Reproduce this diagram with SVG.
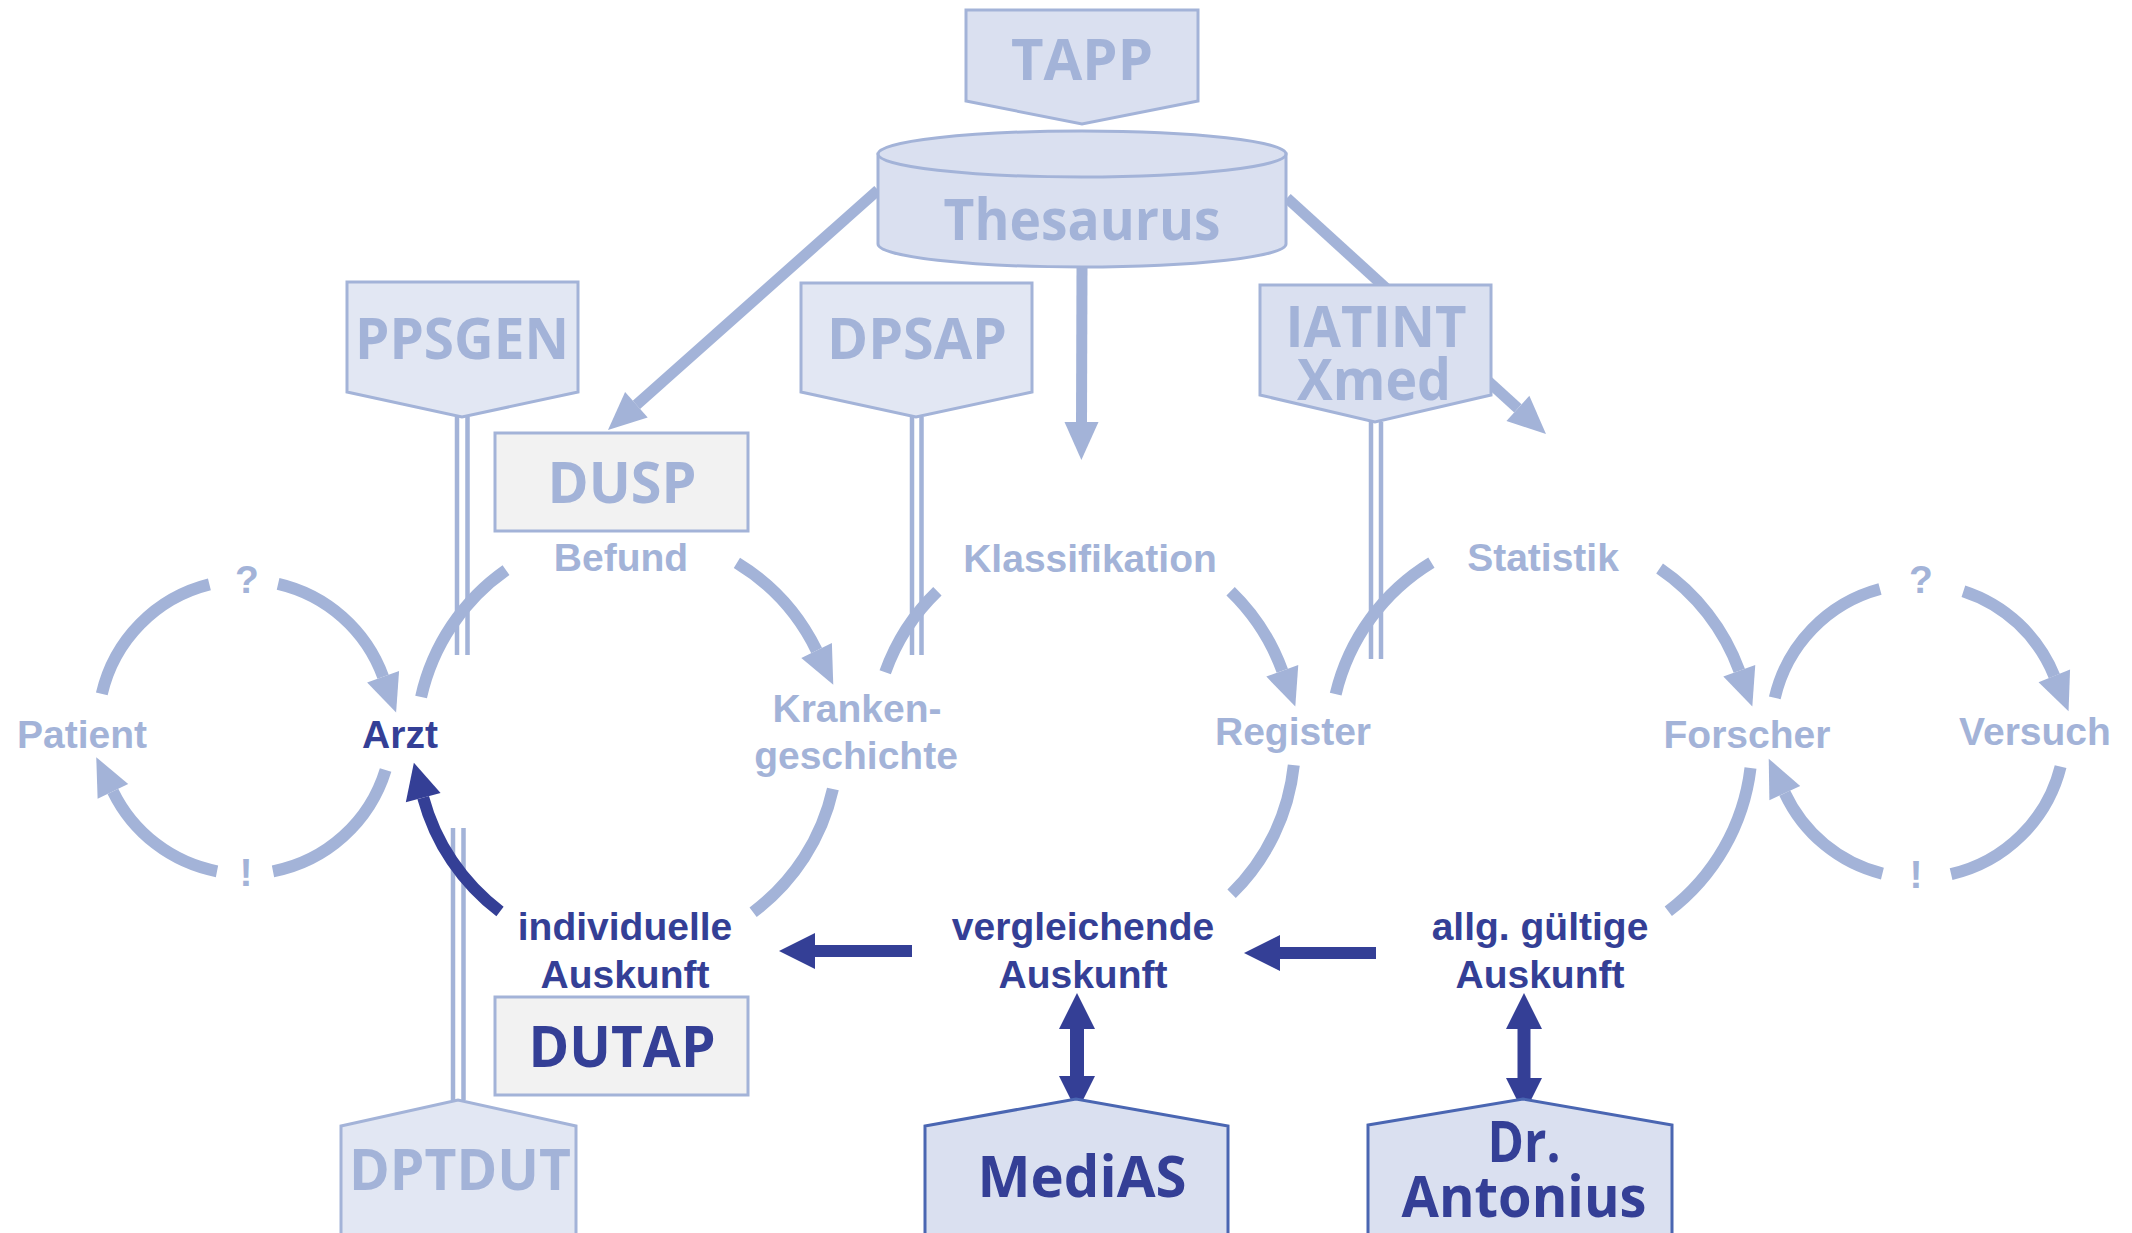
<svg xmlns="http://www.w3.org/2000/svg" width="2132" height="1233" viewBox="0 0 2132 1233">
<style>
.bg{fill:#ffffff}
.box{font-family:"Open Sans","Liberation Sans",sans-serif;font-weight:700;font-size:57px;text-anchor:middle}
.lbl{font-family:"Liberation Sans",Arial,sans-serif;font-weight:700;font-size:39px;text-anchor:middle}
.lt{fill:#a3b3d8}
.dk{fill:#343f96}
.shapeA{fill:#e2e7f3;stroke:#a3b3d8;stroke-width:3}
.shapeB{fill:#dae0f0;stroke:#a3b3d8;stroke-width:3}
.shapeC{fill:#f2f2f2;stroke:#a3b3d8;stroke-width:3}
.shapeD{fill:#dae0f0;stroke:#4a66b2;stroke-width:3}
.arc{fill:none;stroke:#a3b3d8;stroke-width:12}
.arcd{fill:none;stroke:#343f96;stroke-width:12}
.dbl{stroke:#a3b3d8;stroke-width:4.5;fill:none}
.thl{stroke:#a3b3d8;stroke-width:11;fill:none}
.dka{stroke:#343f96;fill:none}
</style>
<defs>
<marker id="aL" markerUnits="userSpaceOnUse" viewBox="0 -20 40 40" markerWidth="40" markerHeight="40" refX="0" refY="0" orient="auto" overflow="visible"><path d="M0,-17 L38,0 L0,17 z" fill="#a3b3d8"/></marker>
<marker id="aD" markerUnits="userSpaceOnUse" viewBox="0 -20 40 40" markerWidth="40" markerHeight="40" refX="0" refY="0" orient="auto-start-reverse" overflow="visible"><path d="M0,-18 L36,0 L0,18 z" fill="#343f96"/></marker>
</defs>
<rect class="bg" x="0" y="0" width="2132" height="1233"/>

<g id="connectors">
  <!-- Thesaurus arrows -->
  <path class="thl" d="M878,190 L636.4,404.8" marker-end="url(#aL)"/>
  <path class="thl" d="M1082,266 L1081.5,422" marker-end="url(#aL)"/>
  <path class="thl" d="M1287,198 L1517.9,408.4" marker-end="url(#aL)"/>
  <!-- double lines -->
  <path class="dbl" d="M457,417 V655 M467.5,417 V655"/>
  <path class="dbl" d="M912,417 V655 M921.5,417 V655"/>
  <path class="dbl" d="M1371,422 V659 M1381,422 V659"/>
  <path class="dbl" d="M453,828 V1100 M463.5,828 V1100"/>
  <!-- circle 1 Patient/Arzt -->
  <path class="arc" d="M101.8,693.9 A147,147 0 0 1 209.4,584.4"/>
  <path class="arc" d="M278.1,583.8 A147,147 0 0 1 383.1,676.7" marker-end="url(#aL)"/>
  <path class="arc" d="M385.6,770 A147,147 0 0 1 273,871.3"/>
  <path class="arc" d="M217,871.3 A147,147 0 0 1 112.9,791.4" marker-end="url(#aL)"/>
  <!-- circle 2 -->
  <path class="arc" d="M421.1,697 A211,211 0 0 1 506,570.2"/>
  <path class="arc" d="M736.9,562.9 A211,211 0 0 1 816.6,650.5" marker-end="url(#aL)"/>
  <path class="arc" d="M832.9,789 A211,211 0 0 1 753.1,912.2"/>
  <path class="arcd" d="M500,911.5 A211,211 0 0 1 423.2,797.6" marker-end="url(#aD)"/>
  <!-- circle 3 -->
  <path class="arc" d="M885.2,672.2 A211,211 0 0 1 937.4,591.2"/>
  <path class="arc" d="M1230.6,591.2 A211,211 0 0 1 1282.3,670.8" marker-end="url(#aL)"/>
  <path class="arc" d="M1293.8,765.1 A211,211 0 0 1 1231.6,893.8"/>
  <!-- circle 4 -->
  <path class="arc" d="M1335.7,694.1 A211,211 0 0 1 1431.4,562.7"/>
  <path class="arc" d="M1659.6,568.5 A211,211 0 0 1 1739.3,670.8" marker-end="url(#aL)"/>
  <path class="arc" d="M1750.5,768 A211,211 0 0 1 1668.3,911.3"/>
  <!-- circle 5 Forscher/Versuch -->
  <path class="arc" d="M1774.8,697.9 A147,147 0 0 1 1880,589"/>
  <path class="arc" d="M1963.4,591.2 A147,147 0 0 1 2054.3,675.9" marker-end="url(#aL)"/>
  <path class="arc" d="M2060.6,766.6 A147,147 0 0 1 1951.1,874.2"/>
  <path class="arc" d="M1882.4,873.6 A147,147 0 0 1 1784.8,793.1" marker-end="url(#aL)"/>
  <!-- dark horizontal arrows -->
  <path class="dka" stroke-width="12" d="M912,951 L815,951" marker-end="url(#aD)"/>
  <path class="dka" stroke-width="12" d="M1376,953 L1280,953" marker-end="url(#aD)"/>
  <!-- dark double arrows -->
  <path class="dka" stroke-width="14" d="M1077,1029 V1076" marker-start="url(#aD)" marker-end="url(#aD)"/>
  <path class="dka" stroke-width="13" d="M1524,1029 V1078" marker-start="url(#aD)" marker-end="url(#aD)"/>
</g>

<g id="TAPP">
  <polygon class="shapeB" points="966,10 1198,10 1198,101 1082,124 966,101"/>
  <text class="box lt" x="1082" y="80" textLength="142" lengthAdjust="spacingAndGlyphs">TAPP</text>
</g>
<g id="Thesaurus">
  <path class="shapeB" d="M878,154 L878,244 A204,23 0 0 0 1286,244 L1286,154 Z"/>
  <ellipse class="shapeB" cx="1082" cy="154" rx="204" ry="23"/>
  <text class="box lt" x="1082" y="240" font-size="60" textLength="277" lengthAdjust="spacingAndGlyphs">Thesaurus</text>
</g>
<g id="PPSGEN">
  <polygon class="shapeA" points="347,282 578,282 578,392 462,417 347,392"/>
  <text class="box lt" x="462" y="359" textLength="214" lengthAdjust="spacingAndGlyphs">PPSGEN</text>
</g>
<g id="DPSAP">
  <polygon class="shapeA" points="801,283 1032,283 1032,392 916,417 801,392"/>
  <text class="box lt" x="917" y="359" textLength="180" lengthAdjust="spacingAndGlyphs">DPSAP</text>
</g>
<g id="IATINT">
  <polygon class="shapeB" points="1260,285 1491,285 1491,395 1375,422 1260,395"/>
  <text class="box lt" x="1376" y="347" textLength="181" lengthAdjust="spacingAndGlyphs">IATINT</text>
  <text class="box lt" x="1374" y="400" textLength="154" lengthAdjust="spacingAndGlyphs">Xmed</text>
</g>
<g id="DUSP">
  <rect class="shapeC" x="495" y="433" width="253" height="98"/>
  <text class="box lt" x="622" y="503" textLength="149" lengthAdjust="spacingAndGlyphs">DUSP</text>
</g>
<g id="DUTAP">
  <rect class="shapeC" x="495" y="997" width="253" height="98"/>
  <text class="box dk" x="622" y="1067" textLength="187" lengthAdjust="spacingAndGlyphs">DUTAP</text>
</g>
<g id="DPTDUT">
  <polygon class="shapeA" points="341,1126 458,1100 576,1126 576,1240 341,1240"/>
  <text class="box lt" x="460" y="1190" textLength="222" lengthAdjust="spacingAndGlyphs">DPTDUT</text>
</g>
<g id="MediAS">
  <polygon class="shapeD" points="925,1126 1076,1099 1228,1126 1228,1240 925,1240"/>
  <text class="box dk" x="1082" y="1197" textLength="209" lengthAdjust="spacingAndGlyphs">MediAS</text>
</g>
<g id="DrAntonius">
  <polygon class="shapeD" points="1368,1125 1523,1099 1672,1125 1672,1240 1368,1240"/>
  <text class="box dk" x="1524" y="1162" textLength="73" lengthAdjust="spacingAndGlyphs">Dr.</text>
  <text class="box dk" x="1524" y="1217" textLength="245" lengthAdjust="spacingAndGlyphs">Antonius</text>
</g>

<g id="labels">
  <g id="Patient"><text class="lbl lt" x="82" y="748">Patient</text></g>
  <g id="Arzt"><text class="lbl dk" x="400" y="748">Arzt</text></g>
  <g id="q1"><text class="lbl lt" x="247" y="593" font-size="37">?</text></g>
  <g id="e1"><text class="lbl lt" x="246" y="886" font-size="37">!</text></g>
  <g id="Befund"><text class="lbl lt" x="621" y="571">Befund</text></g>
  <g id="Krankengeschichte"><text class="lbl lt" x="857" y="722">Kranken-</text><text class="lbl lt" x="856" y="769">geschichte</text></g>
  <g id="Klassifikation"><text class="lbl lt" x="1090" y="572">Klassifikation</text></g>
  <g id="Register"><text class="lbl lt" x="1293" y="745">Register</text></g>
  <g id="Statistik"><text class="lbl lt" x="1543" y="571">Statistik</text></g>
  <g id="Forscher"><text class="lbl lt" x="1747" y="748">Forscher</text></g>
  <g id="Versuch"><text class="lbl lt" x="2035" y="745">Versuch</text></g>
  <g id="q2"><text class="lbl lt" x="1921" y="593" font-size="37">?</text></g>
  <g id="e2"><text class="lbl lt" x="1916" y="888" font-size="37">!</text></g>
  <g id="individuelle"><text class="lbl dk" x="625" y="940">individuelle</text><text class="lbl dk" x="625" y="988">Auskunft</text></g>
  <g id="vergleichende"><text class="lbl dk" x="1083" y="940">vergleichende</text><text class="lbl dk" x="1083" y="988">Auskunft</text></g>
  <g id="allg"><text class="lbl dk" x="1540" y="940">allg. gültige</text><text class="lbl dk" x="1540" y="988">Auskunft</text></g>
</g>
</svg>
